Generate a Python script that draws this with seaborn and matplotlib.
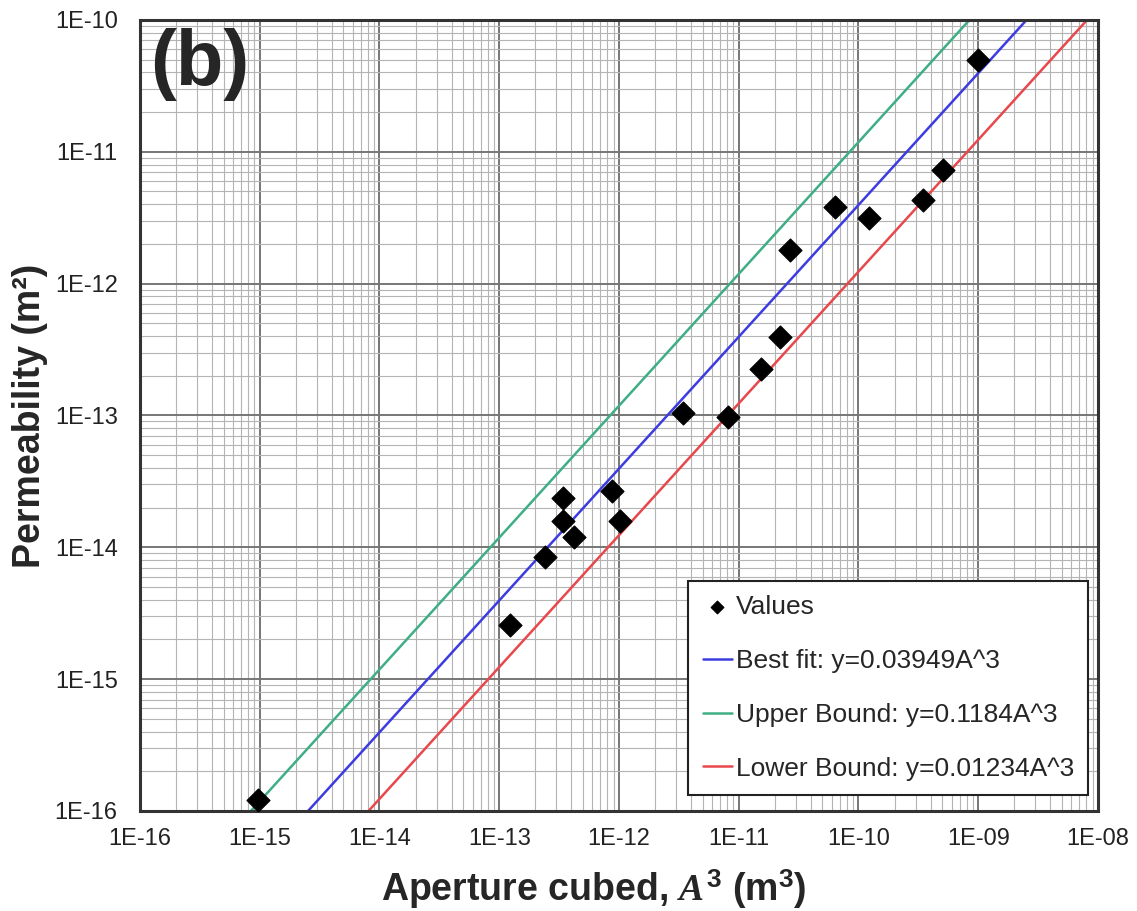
import numpy as np
import pandas as pd
import matplotlib
matplotlib.use("Agg")
import matplotlib.pyplot as plt
import seaborn as sns
from matplotlib.ticker import LogLocator, FixedFormatter, FixedLocator

# Measured aperture cubed (m^3) and permeability (m^2)
aperture_cubed = [9.7e-16, 1.24e-13, 2.39e-13, 3.44e-13, 3.38e-13, 4.25e-13,
                  8.8e-13, 1.01e-12, 3.4e-12, 8.1e-12, 1.53e-11, 2.2e-11,
                  2.67e-11, 6.35e-11, 1.22e-10, 3.45e-10, 5.08e-10, 1.0e-9]
permeability = [1.21e-16, 2.58e-15, 8.46e-15, 2.37e-14, 1.58e-14, 1.2e-14,
                2.68e-14, 1.58e-14, 1.05e-13, 9.8e-14, 2.26e-13, 3.95e-13,
                1.8e-12, 3.83e-12, 3.15e-12, 4.33e-12, 7.3e-12, 4.99e-11]

# Cubic-law fit coefficients
fit_names = ["Best fit: y=0.03949A^3", "Upper Bound: y=0.1184A^3", "Lower Bound: y=0.01234A^3"]
fit_coefs = [0.03949, 0.1184, 0.01234]
fit_colors = ["#3c3ce0", "#3fae84", "#e8484c"]

x_ticks = [1e-16, 1e-15, 1e-14, 1e-13, 1e-12, 1e-11, 1e-10, 1e-9, 1e-8]
x_labels = ["1E-16", "1E-15", "1E-14", "1E-13", "1E-12", "1E-11", "1E-10", "1E-09", "1E-08"]
y_ticks = [1e-16, 1e-15, 1e-14, 1e-13, 1e-12, 1e-11, 1e-10]
y_labels = ["1E-16", "1E-15", "1E-14", "1E-13", "1E-12", "1E-11", "1E-10"]

sns.set_style("white")
plt.rcParams["font.family"] = ["Liberation Sans", "DejaVu Sans"]
plt.rcParams["mathtext.fontset"] = "custom"
plt.rcParams["mathtext.it"] = "Liberation Serif:italic:bold"
plt.rcParams["mathtext.rm"] = "Liberation Sans:bold"

fig = plt.figure(figsize=(11.37, 9.11), dpi=100)
ax = fig.add_axes([0.1231, 0.1098, 0.8426, 0.8683])
ax.set_xscale("log")
ax.set_yscale("log")
ax.set_xlim(1e-16, 1e-8)
ax.set_ylim(1e-16, 1e-10)

# Grid
ax.xaxis.set_minor_locator(LogLocator(base=10, subs=np.arange(2, 10)))
ax.yaxis.set_minor_locator(LogLocator(base=10, subs=np.arange(2, 10)))
ax.grid(which="major", color="#767676", linewidth=1.4, zorder=0)
ax.grid(which="minor", color="#b4b4b4", linewidth=0.8, zorder=0)
ax.set_axisbelow(True)

# Fit lines
xs = np.logspace(-16, -8, 200)
line_rows = []
for name, k in zip(fit_names, fit_coefs):
    for xv in xs:
        line_rows.append({"x": xv, "y": k * xv, "fit": name})
lines_df = pd.DataFrame(line_rows)
sns.lineplot(data=lines_df, x="x", y="y", hue="fit", hue_order=fit_names,
             palette=fit_colors, linewidth=1.8, ax=ax, zorder=2)

# Measurements
pts = pd.DataFrame({"x": aperture_cubed, "y": permeability})
sns.scatterplot(data=pts, x="x", y="y", marker="D", s=135, color="black",
                edgecolor="black", ax=ax, zorder=3, label="Values")

ax.xaxis.set_major_locator(FixedLocator(x_ticks))
ax.xaxis.set_major_formatter(FixedFormatter(x_labels))
ax.yaxis.set_major_locator(FixedLocator(y_ticks))
ax.yaxis.set_major_formatter(FixedFormatter(y_labels))
ax.tick_params(which="both", length=0)
ax.tick_params(axis="x", labelsize=17, pad=12, colors="#222222")
ax.tick_params(axis="y", labelsize=17, pad=16, colors="#222222")

for sp in ax.spines.values():
    sp.set_color("#333333")
    sp.set_linewidth(2.2)

ax.set_xlabel(r"Aperture cubed, $A^3$ (m$^3$)", fontsize=27, fontweight="bold")
ax.set_ylabel("Permeability (m²)", fontsize=27, fontweight="bold", labelpad=5)
ax.xaxis.set_label_coords(0.474, -0.071)

ax.text(0.011, 0.99, "(b)", transform=ax.transAxes, fontsize=56,
        fontweight="bold", va="top", ha="left", zorder=4)

handles, labels = ax.get_legend_handles_labels()
order = [labels.index("Values")] + [labels.index(n) for n in fit_names]
leg = ax.legend([handles[i] for i in order], [labels[i] for i in order],
                loc="lower right", bbox_to_anchor=(0.99, 0.02), borderaxespad=0,
                fontsize=19, frameon=True, fancybox=False, edgecolor="#222222",
                framealpha=1, handlelength=1.1, handletextpad=0.15,
                labelspacing=1.13, borderpad=0.55, markerscale=0.55)
leg.get_frame().set_linewidth(1.5)
leg.set_zorder(5)

fig.savefig("out.png", dpi=100)
